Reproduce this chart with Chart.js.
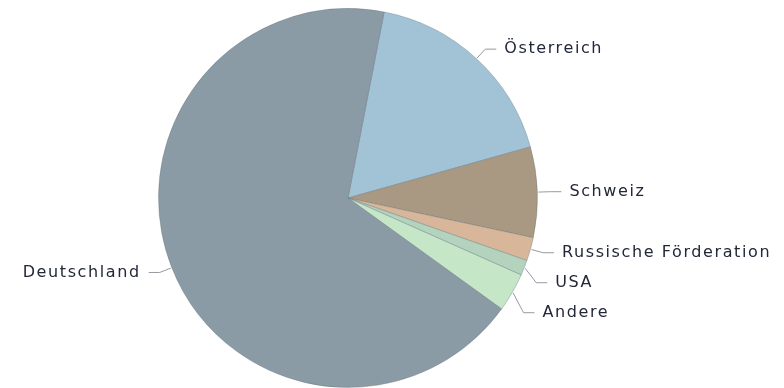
<!DOCTYPE html>
<html>
<head>
<meta charset="utf-8">
<script src="https://cdn.jsdelivr.net/npm/chart.js@4"></script>
<style>
html,body{margin:0;padding:0;background:#fff;}
#wrap{width:784px;height:388px;position:relative;}
</style>
</head>
<body>
<div id="wrap"><canvas id="c" width="784" height="388"></canvas></div>
<script>
const categories = ["Österreich", "Schweiz", "Russische Förderation", "USA", "Andere", "Deutschland"];
const shares = [17.6, 7.7, 2.0, 1.3, 3.3, 68.1];
const sliceColors = ["#a2c3d5", "#a99983", "#d8b699", "#b3d3bf", "#c6e6c8", "#8b9ba6"];

const leaderLabels = {
  id: 'leaderLabels',
  afterDatasetsDraw(chart) {
    const ctx = chart.ctx;
    const arcs = chart.getDatasetMeta(0).data;
    const items = arcs.map((a, i) => {
      const p = a.getProps(['x','y','startAngle','endAngle','outerRadius'], true);
      const mid = (p.startAngle + p.endAngle) / 2;
      const r = p.outerRadius;
      const cos = Math.cos(mid), sin = Math.sin(mid);
      return {
        i, side: cos >= 0 ? 1 : -1,
        sx: p.x + cos * (r + 1), sy: p.y + sin * (r + 1),
        ex: p.x + cos * (r + 13), ey: p.y + sin * (r + 13)
      };
    });
    [1, -1].forEach(side => {
      const list = items.filter(o => o.side === side).sort((a, b) => a.ey - b.ey);
      let prev = -Infinity;
      list.forEach(o => {
        o.ty = Math.max(o.ey, prev + 30);
        prev = o.ty;
      });
    });
    ctx.save();
    ctx.font = '16px "DejaVu Sans", Verdana, sans-serif';
    try { ctx.letterSpacing = '1.6px'; } catch (e) {}
    ctx.textBaseline = 'middle';
    items.forEach(o => {
      const hx = o.ex + o.side * 11;
      ctx.strokeStyle = '#959aa1';
      ctx.lineWidth = 1;
      ctx.beginPath();
      ctx.moveTo(o.sx, o.sy);
      ctx.lineTo(o.ex, o.ty);
      ctx.lineTo(hx, o.ty);
      ctx.stroke();
      ctx.fillStyle = '#222838';
      ctx.textAlign = o.side > 0 ? 'left' : 'right';
      ctx.fillText(categories[o.i], hx + o.side * 8, o.ty);
    });
    ctx.restore();
  }
};

new Chart(document.getElementById('c'), {
  type: 'pie',
  data: {
    labels: categories,
    datasets: [{
      data: shares,
      backgroundColor: sliceColors,
      borderColor: 'rgba(95,110,120,0.35)',
      borderWidth: 1
    }]
  },
  options: {
    responsive: false,
    animation: false,
    rotation: 11,
    layout: { padding: { top: 8, bottom: 0, left: 0, right: 88 } },
    plugins: { legend: { display: false }, tooltip: { enabled: false } }
  },
  plugins: [leaderLabels]
});
</script>
</body>
</html>
